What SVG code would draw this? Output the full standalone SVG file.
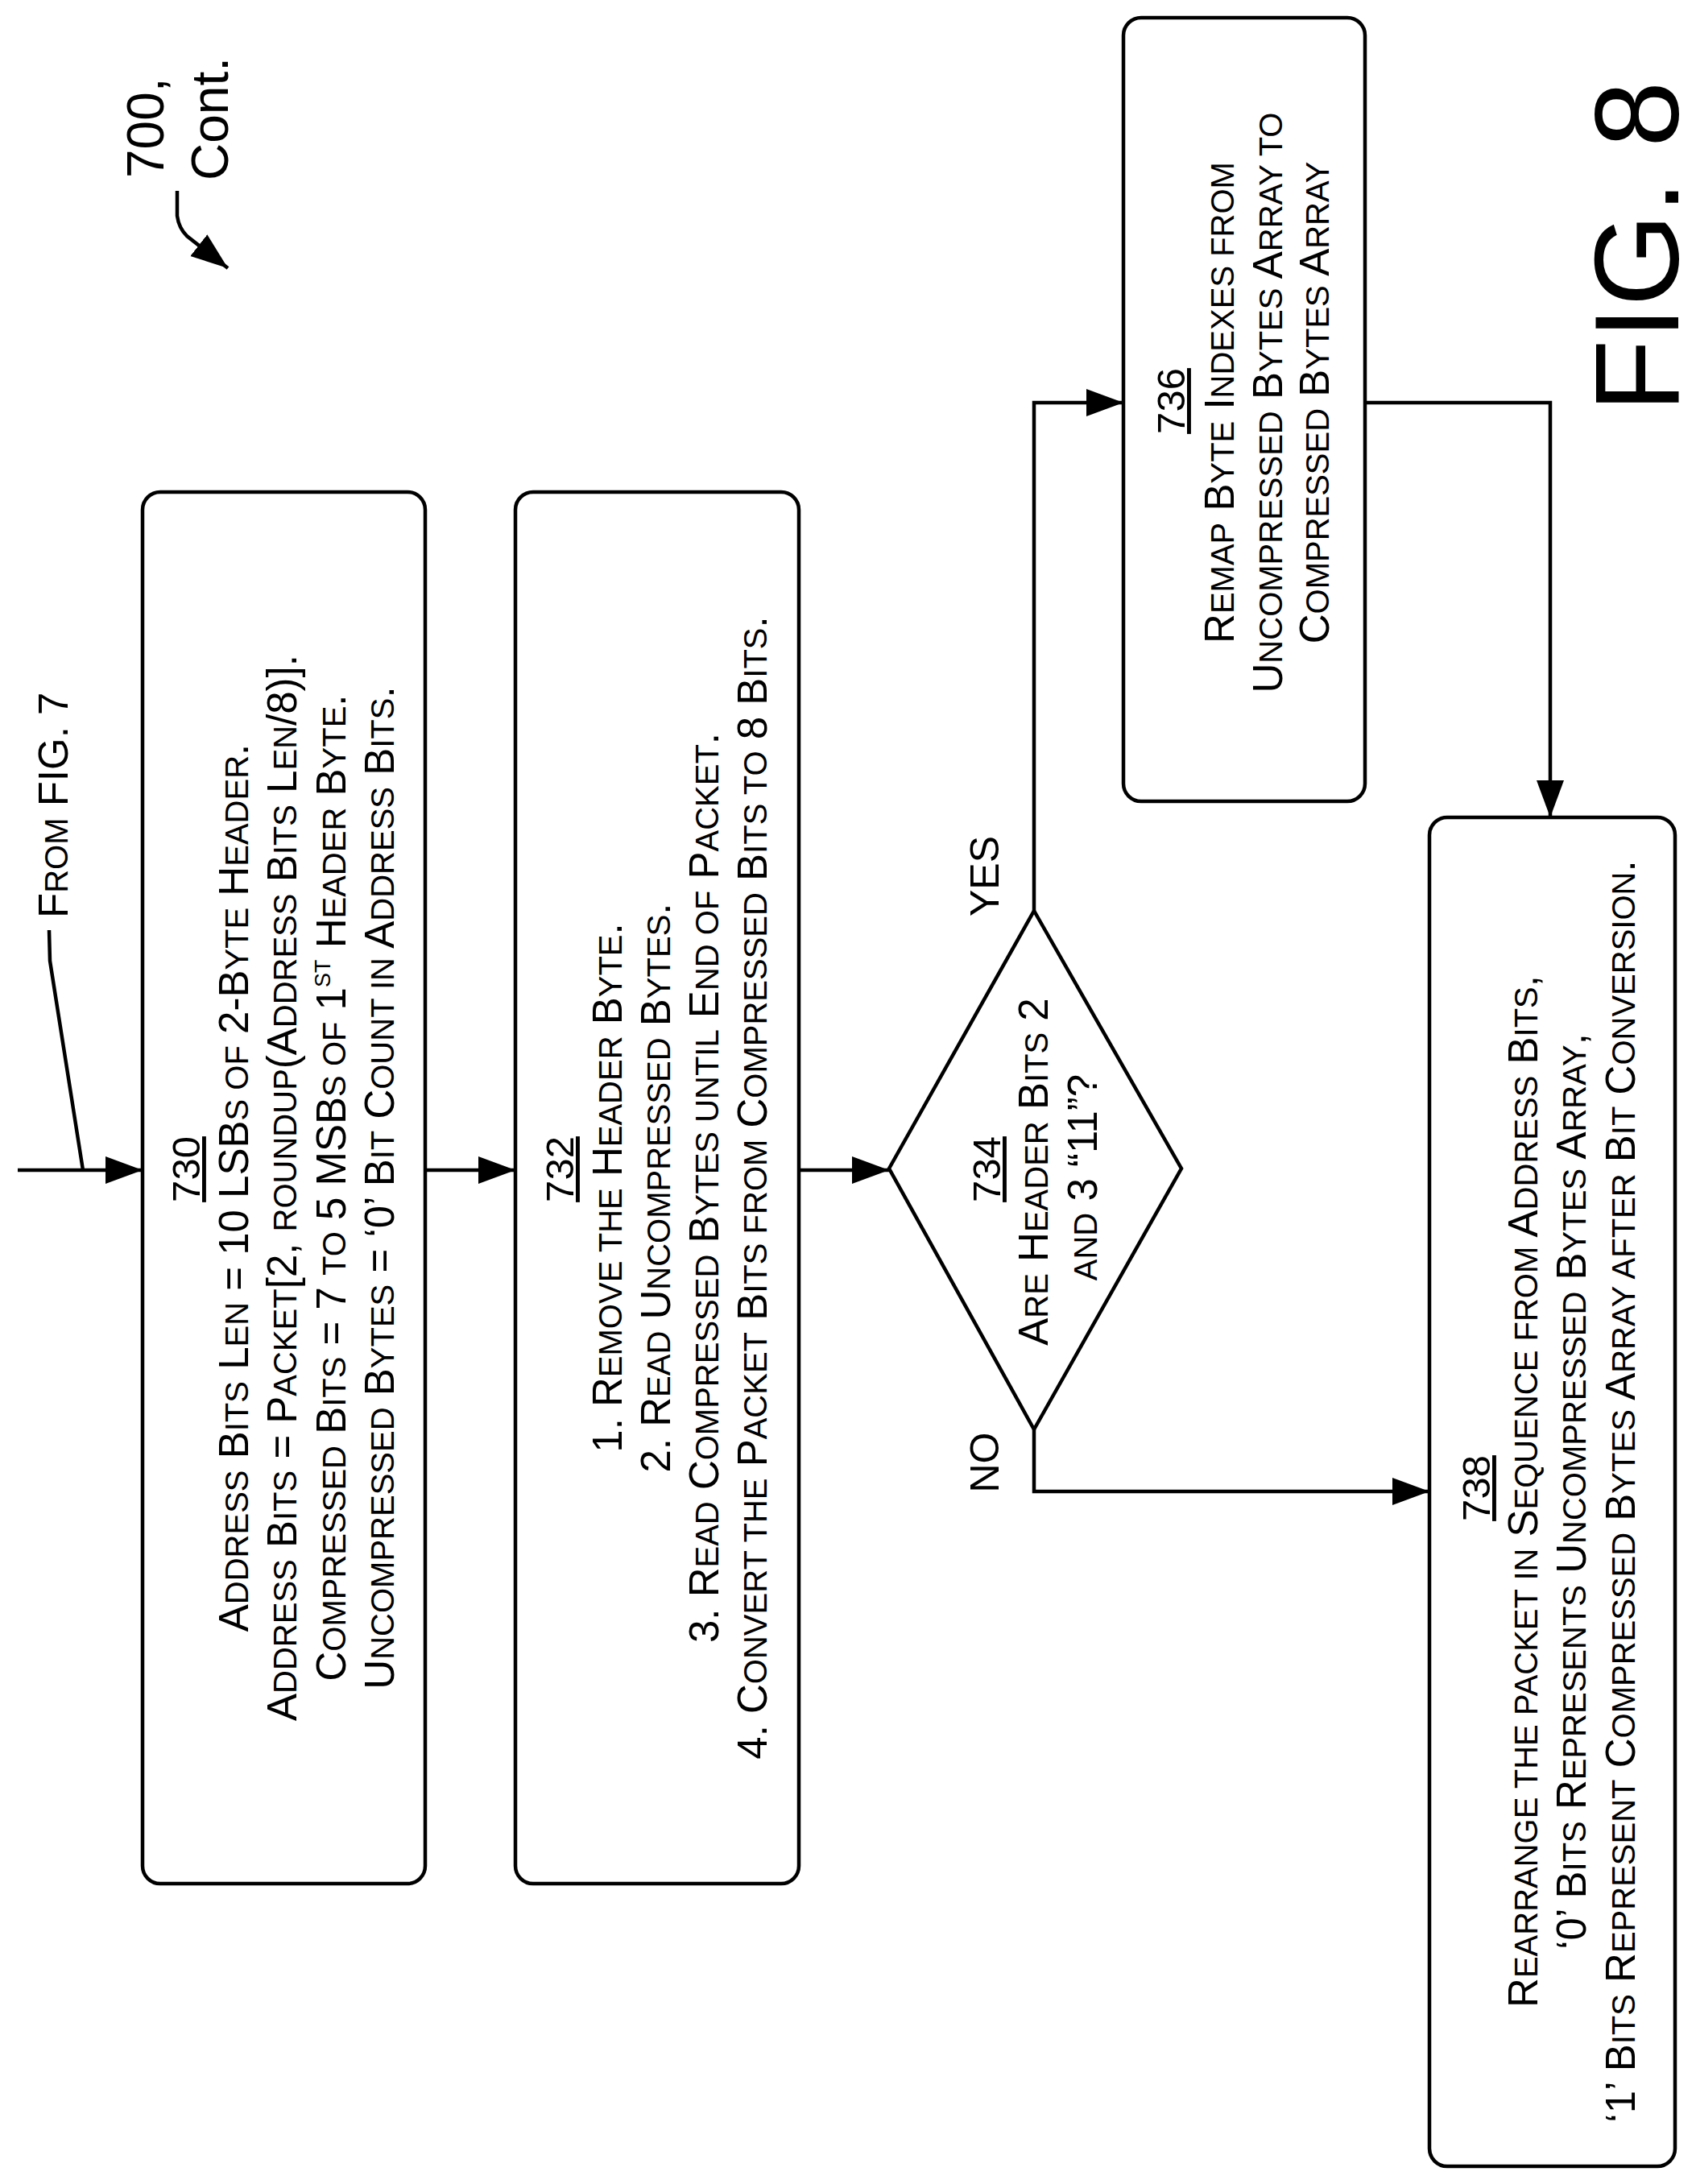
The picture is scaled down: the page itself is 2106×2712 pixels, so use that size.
<svg xmlns="http://www.w3.org/2000/svg" width="2106" height="2712" viewBox="0 0 2106 2712">
<style>
.box{fill:#fff;stroke:#000;stroke-width:4.5}
.t{font-family:"Liberation Sans",Arial,sans-serif;font-size:51px;text-anchor:middle;fill:#000}
.s{font-size:40px}
.n{font-family:"Liberation Sans",Arial,sans-serif;font-size:49px;text-anchor:middle;text-decoration:underline;fill:#000}
.c{fill:none;stroke:#000;stroke-width:4.5}
.p{font-family:"Liberation Sans",Arial,sans-serif;fill:#000}
</style>
<defs>
<marker id="ah" markerUnits="userSpaceOnUse" markerWidth="50" markerHeight="36" refX="46" refY="17" orient="auto">
<path d="M0,0 L46,17 L0,34 Z" fill="#000"/>
</marker>
</defs>
<rect width="2106" height="2712" fill="#fff"/>
<g id="n730">
<rect class="box" x="177" y="611" width="351" height="1728" rx="22"/>
<text class="n" transform="translate(248,1452) rotate(-90)">730</text>
<text class="t" transform="translate(308,1475) rotate(-90)">A<tspan class="s">DDRESS</tspan> B<tspan class="s">ITS</tspan> L<tspan class="s">EN</tspan> = 10 LSB<tspan class="s">S OF</tspan> 2-B<tspan class="s">YTE</tspan> H<tspan class="s">EADER</tspan>.</text>
<text class="t" transform="translate(368,1475) rotate(-90)">A<tspan class="s">DDRESS</tspan> B<tspan class="s">ITS</tspan> = P<tspan class="s">ACKET</tspan>[2, <tspan class="s">ROUNDUP</tspan>(A<tspan class="s">DDRESS</tspan> B<tspan class="s">ITS</tspan> L<tspan class="s">EN</tspan>/8)].</text>
<text class="t" transform="translate(429,1475) rotate(-90)">C<tspan class="s">OMPRESSED</tspan> B<tspan class="s">ITS</tspan> = 7 <tspan class="s">TO</tspan> 5 MSB<tspan class="s">S OF</tspan> 1<tspan font-size="27" dy="-19">ST</tspan><tspan dy="19"> H</tspan><tspan class="s">EADER</tspan> B<tspan class="s">YTE</tspan>.</text>
<text class="t" transform="translate(489,1475) rotate(-90)">U<tspan class="s">NCOMPRESSED</tspan> B<tspan class="s">YTES</tspan> = ‘0’ B<tspan class="s">IT</tspan> C<tspan class="s">OUNT IN</tspan> A<tspan class="s">DDRESS</tspan> B<tspan class="s">ITS</tspan>.</text>
</g>
<g id="n732">
<rect class="box" x="640" y="611" width="352" height="1728" rx="22"/>
<text class="n" transform="translate(712,1452) rotate(-90)">732</text>
<text class="t" transform="translate(772,1475) rotate(-90)">1. R<tspan class="s">EMOVE THE</tspan> H<tspan class="s">EADER</tspan> B<tspan class="s">YTE</tspan>.</text>
<text class="t" transform="translate(832,1475) rotate(-90)">2. R<tspan class="s">EAD</tspan> U<tspan class="s">NCOMPRESSED</tspan> B<tspan class="s">YTES</tspan>.</text>
<text class="t" transform="translate(892,1475) rotate(-90)">3. R<tspan class="s">EAD</tspan> C<tspan class="s">OMPRESSED</tspan> B<tspan class="s">YTES UNTIL</tspan> E<tspan class="s">ND OF</tspan> P<tspan class="s">ACKET</tspan>.</text>
<text class="t" transform="translate(952,1475) rotate(-90)">4. C<tspan class="s">ONVERT THE</tspan> P<tspan class="s">ACKET</tspan> B<tspan class="s">ITS FROM</tspan> C<tspan class="s">OMPRESSED</tspan> B<tspan class="s">ITS TO</tspan> 8 B<tspan class="s">ITS</tspan>.</text>
</g>
<g id="n734">
<polygon class="box" points="1104,1451 1284,1131 1467,1451 1284,1775"/>
<text class="n" transform="translate(1242,1452) rotate(-90)">734</text>
<text class="t" transform="translate(1301,1455) rotate(-90)">A<tspan class="s">RE</tspan> H<tspan class="s">EADER</tspan> B<tspan class="s">ITS</tspan> 2</text>
<text class="t" transform="translate(1362,1462) rotate(-90)"><tspan class="s">AND</tspan> 3 “11”?</text>
</g>
<g id="n736">
<rect class="box" x="1395" y="22" width="300" height="973" rx="22"/>
<text class="n" transform="translate(1471,498) rotate(-90)">736</text>
<text class="t" transform="translate(1532,500) rotate(-90)">R<tspan class="s">EMAP</tspan> B<tspan class="s">YTE</tspan> I<tspan class="s">NDEXES FROM</tspan></text>
<text class="t" transform="translate(1592,500) rotate(-90)">U<tspan class="s">NCOMPRESSED</tspan> B<tspan class="s">YTES</tspan> A<tspan class="s">RRAY TO</tspan></text>
<text class="t" transform="translate(1650,500) rotate(-90)">C<tspan class="s">OMPRESSED</tspan> B<tspan class="s">YTES</tspan> A<tspan class="s">RRAY</tspan></text>
</g>
<g id="n738">
<rect class="box" x="1775" y="1015" width="305" height="1675" rx="22"/>
<text class="n" transform="translate(1850,1848) rotate(-90)">738</text>
<text class="t" transform="translate(1909,1852) rotate(-90)">R<tspan class="s">EARRANGE THE PACKET IN</tspan> S<tspan class="s">EQUENCE FROM</tspan> A<tspan class="s">DDRESS</tspan> B<tspan class="s">ITS</tspan>,</text>
<text class="t" transform="translate(1969,1852) rotate(-90)">‘0’ B<tspan class="s">ITS</tspan> R<tspan class="s">EPRESENTS</tspan> U<tspan class="s">NCOMPRESSED</tspan> B<tspan class="s">YTES</tspan> A<tspan class="s">RRAY</tspan>,</text>
<text class="t" transform="translate(2030,1852) rotate(-90)">‘1’ B<tspan class="s">ITS</tspan> R<tspan class="s">EPRESENT</tspan> C<tspan class="s">OMPRESSED</tspan> B<tspan class="s">YTES</tspan> A<tspan class="s">RRAY AFTER</tspan> B<tspan class="s">IT</tspan> C<tspan class="s">ONVERSION</tspan>.</text>
</g>
<g id="connectors">
<path class="c" d="M22 1453 H177" marker-end="url(#ah)"/>
<path class="c" d="M61 1155 L62 1193 L103 1453"/>
<path class="c" d="M528 1453 H640" marker-end="url(#ah)"/>
<path class="c" d="M992 1453 H1104" marker-end="url(#ah)"/>
<path class="c" d="M1284 1131 V500 H1395" marker-end="url(#ah)"/>
<path class="c" d="M1284 1775 V1852 H1775" marker-end="url(#ah)"/>
<path class="c" d="M1695 500 H1925 V1015" marker-end="url(#ah)"/>
<path class="c" d="M220 237 L220 268 Q222 283 232 293 L283 333" marker-end="url(#ah)"/>
</g>
<g id="labels">
<text class="t" style="text-anchor:start" transform="translate(84,1140) rotate(-90)">F<tspan class="s">ROM</tspan> FIG. 7</text>
<text class="p" font-size="50" text-anchor="middle" transform="translate(1240,1088) rotate(-90)">YES</text>
<text class="p" font-size="50" text-anchor="middle" transform="translate(1240,1816) rotate(-90)">NO</text>
<text class="p" font-size="148" transform="translate(2084,512) rotate(-90)">FIG. 8</text>
<text class="p" font-size="64" transform="translate(203,221) rotate(-90)">700,</text>
<text class="p" font-size="64" transform="translate(283,224) rotate(-90)">Cont.</text>
</g>
</svg>
